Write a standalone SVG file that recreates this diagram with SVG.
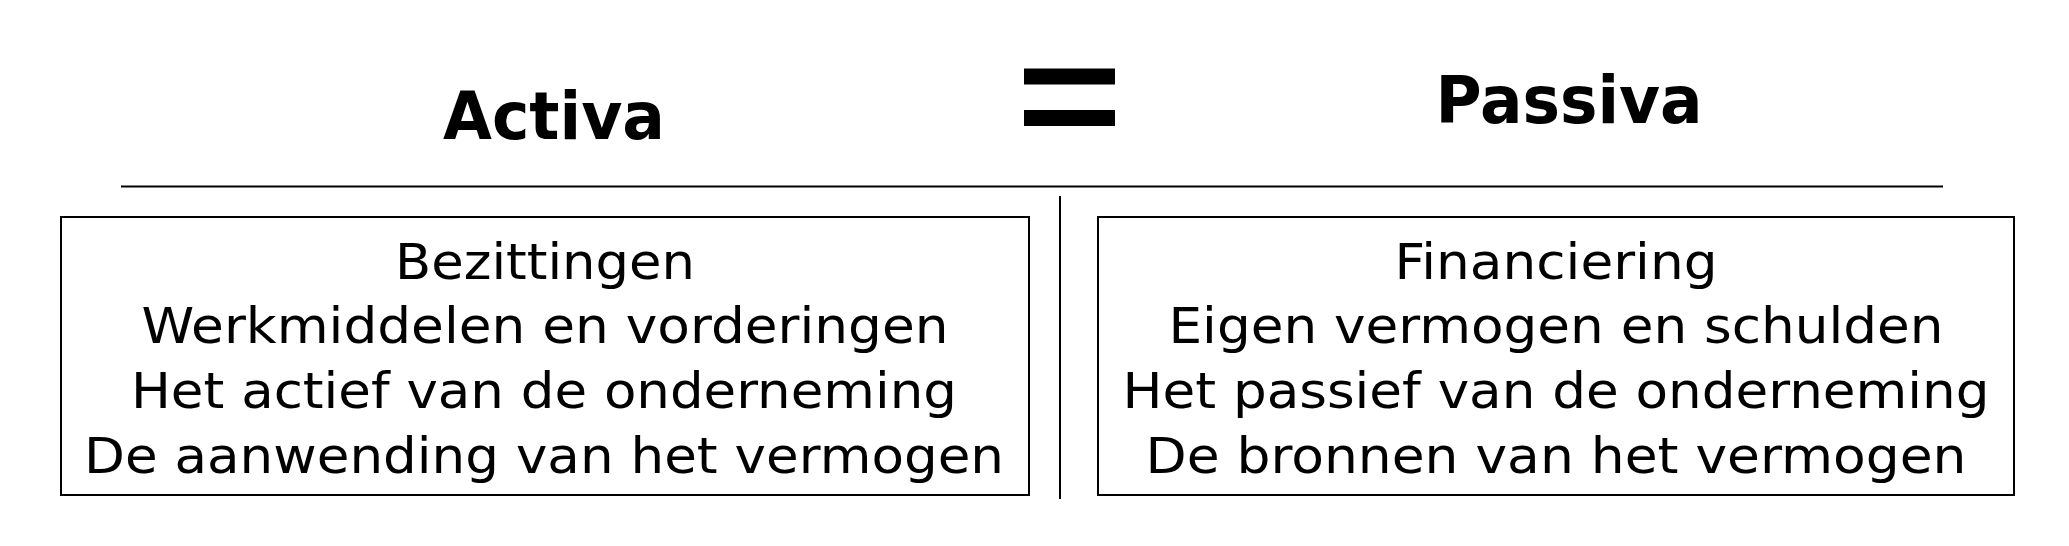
<svg xmlns="http://www.w3.org/2000/svg" width="2069" height="546" viewBox="0 0 2069 546">
<style>
.title{font-family:"DejaVu Sans",Verdana,sans-serif;font-weight:bold;font-size:65px;fill:#000;text-anchor:middle}
.body{font-family:"DejaVu Sans",Verdana,sans-serif;font-size:50px;fill:#000;text-anchor:middle}
.box{fill:#fff;stroke:#000;stroke-width:2}
.rule{stroke:#000;stroke-width:2;fill:none}
</style>
<rect x="0" y="0" width="2069" height="546" fill="#fff"/>
<g id="title-activa"><text class="title" x="554" y="139" textLength="222" lengthAdjust="spacingAndGlyphs">Activa</text></g>
<g id="equals"><rect x="1024" y="68.5" width="91" height="16" fill="#000"/><rect x="1024" y="110" width="91" height="16" fill="#000"/></g>
<g id="title-passiva"><text class="title" x="1569" y="123" textLength="267" lengthAdjust="spacingAndGlyphs">Passiva</text></g>
<g id="connectors">
<line class="rule" x1="121" y1="186.5" x2="1943" y2="186.5"/>
<line class="rule" x1="1060" y1="196" x2="1060" y2="499"/>
</g>
<g id="activa-box">
<rect class="box" x="61" y="217" width="968" height="278"/>
<text class="body" x="545" y="279" textLength="300" lengthAdjust="spacingAndGlyphs">Bezittingen</text>
<text class="body" x="545" y="343" textLength="807" lengthAdjust="spacingAndGlyphs">Werkmiddelen en vorderingen</text>
<text class="body" x="544" y="408" textLength="826" lengthAdjust="spacingAndGlyphs">Het actief van de onderneming</text>
<text class="body" x="544" y="473" textLength="920" lengthAdjust="spacingAndGlyphs">De aanwending van het vermogen</text>
</g>
<g id="passiva-box">
<rect class="box" x="1098" y="217" width="916" height="278"/>
<text class="body" x="1556" y="279" textLength="323" lengthAdjust="spacingAndGlyphs">Financiering</text>
<text class="body" x="1556" y="343" textLength="775" lengthAdjust="spacingAndGlyphs">Eigen vermogen en schulden</text>
<text class="body" x="1556" y="408" textLength="867" lengthAdjust="spacingAndGlyphs">Het passief van de onderneming</text>
<text class="body" x="1556" y="473" textLength="821" lengthAdjust="spacingAndGlyphs">De bronnen van het vermogen</text>
</g>
</svg>
